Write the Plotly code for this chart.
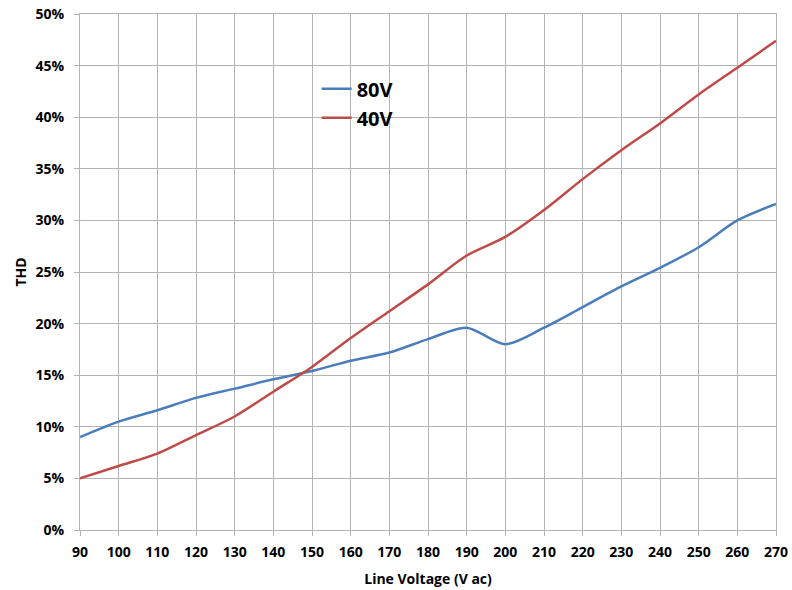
import plotly.graph_objects as go

voltage = [90, 100, 110, 120, 130, 140, 150, 160, 170, 180, 190, 200, 210, 220, 230, 240, 250, 260, 270]
thd_80v = [9.0, 10.5, 11.6, 12.8, 13.7, 14.6, 15.4, 16.4, 17.2, 18.5, 19.6, 18.0, 19.6, 21.6, 23.6, 25.4, 27.4, 30.0, 31.6]
thd_40v = [5.0, 6.2, 7.4, 9.2, 11.0, 13.4, 15.8, 18.6, 21.2, 23.8, 26.6, 28.4, 31.0, 34.0, 36.8, 39.4, 42.2, 44.8, 47.4]
y_ticks = [0, 5, 10, 15, 20, 25, 30, 35, 40, 45, 50]
y_labels = [f"{v}%" for v in y_ticks]

fig = go.Figure()
fig.add_trace(go.Scatter(x=voltage, y=thd_80v, name="80V", mode="lines",
                         line=dict(color="#4A7EBB", width=2.5, shape="spline", smoothing=0.8)))
fig.add_trace(go.Scatter(x=voltage, y=thd_40v, name="40V", mode="lines",
                         line=dict(color="#BE4B48", width=2.5, shape="spline", smoothing=0.8)))

font_family = "Open Sans, DejaVu Sans, sans-serif"
fig.update_layout(
    width=792, height=590,
    margin=dict(l=80, r=16, t=14, b=60),
    plot_bgcolor="white", paper_bgcolor="white",
    font=dict(family=font_family, color="black"),
    showlegend=True,
    legend=dict(x=0.340, y=0.893, xanchor="left", yanchor="top",
                bgcolor="rgba(0,0,0,0)", font=dict(size=20, family=font_family, weight="bold"),
                tracegroupgap=0),
)
fig.update_xaxes(
    range=[90, 270], tickvals=voltage, ticktext=[str(v) for v in voltage],
    showgrid=True, gridcolor="#b3b3b3", gridwidth=1,
    showline=True, linecolor="#b3b3b3", mirror=True,
    ticks="outside", ticklen=5, tickcolor="#b3b3b3",
    tickfont=dict(size=14, family=font_family, weight="bold"),
    ticklabelstandoff=4, ticklabeloverflow="allow",
    title=dict(text="Line Voltage (V ac)", font=dict(size=14, family=font_family, weight="bold"), standoff=14),
    zeroline=False, automargin=False,
)
fig.update_yaxes(
    range=[0, 50], tickvals=y_ticks, ticktext=y_labels,
    showgrid=True, gridcolor="#b3b3b3", gridwidth=1,
    showline=True, linecolor="#b3b3b3", mirror=True,
    ticks="outside", ticklen=5, tickcolor="#b3b3b3",
    tickfont=dict(size=14, family=font_family, weight="bold"),
    ticklabelstandoff=7, ticklabeloverflow="allow",
    title=dict(text="THD", font=dict(size=14, family=font_family, weight="bold"), standoff=5),
    zeroline=False, automargin=False,
)
fig.write_html("out.html", config={"displayModeBar": False},
               post_script="document.body.style.margin='0';")
